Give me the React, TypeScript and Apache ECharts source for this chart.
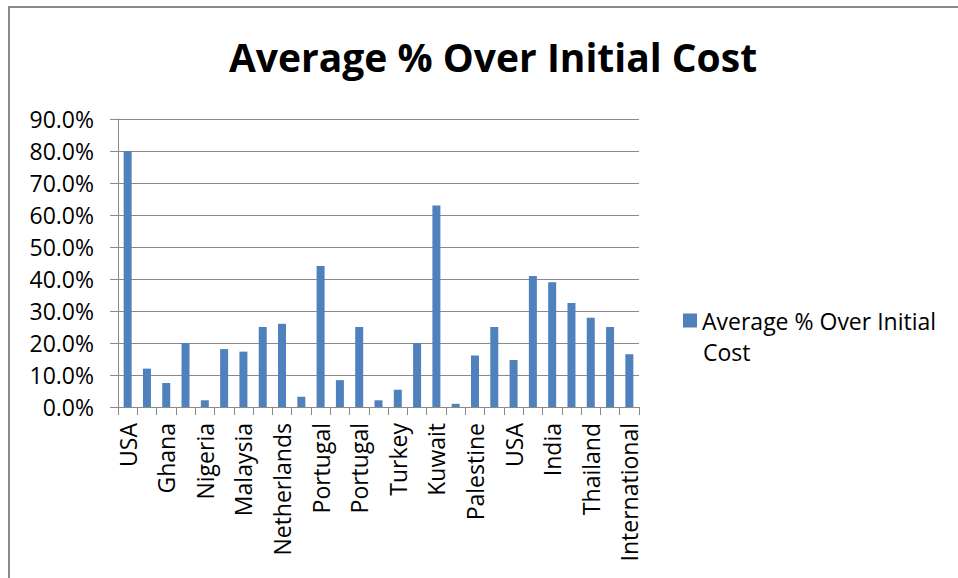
import React, { useEffect, useRef } from "react";
import * as echarts from "echarts";

const seriesName = "Average % Over Initial Cost";
const legendLine1 = "Average % Over Initial";
const legendLine2 = "Cost";

const categories = [
  "USA", "UK", "Ghana", "Nigeria", "Nigeria", "Malaysia", "Malaysia",
  "Indonesia", "Netherlands", "Jordan", "Portugal", "Portugal", "Portugal",
  "Slovenia", "Turkey", "Kuwait", "Kuwait", "Saudi Arabia", "Palestine",
  "Egypt", "USA", "India", "India", "Vietnam", "Thailand", "Thailand",
  "International",
];

const values = [
  80, 12, 7.5, 20, 2.1, 18.1, 17.3, 25, 26, 3.2, 44.1, 8.4, 25, 2.1,
  5.4, 20, 63, 1.0, 16.1, 25, 14.7, 40.9, 39, 32.5, 27.9, 25, 16.5,
];

const yTicks = { min: 0, max: 90, interval: 10 };

const FONT = "'Open Sans', 'Noto Sans', sans-serif";
const GRID = "#8a8a8a";

export default function App() {
  const ref = useRef<HTMLDivElement>(null);

  useEffect(() => {
    if (!ref.current) return;
    const chart = echarts.init(ref.current, null, { renderer: "svg" });
    chart.setOption({
      animation: false,
      backgroundColor: "#ffffff",
      title: {
        text: "Average % Over Initial Cost",
        left: 488,
        textAlign: "center",
        top: 32,
        textStyle: {
          fontFamily: FONT,
          fontWeight: "bold",
          fontSize: 39,
          color: "#000000",
        },
      },
      graphic: [
        {
          type: "rect",
          shape: { x: 9, y: 7, width: 1000, height: 700 },
          style: { fill: "none", stroke: "#8a8a8a", lineWidth: 2 },
          silent: true,
        },
        {
          type: "text",
          x: 703,
          y: 352,
          style: {
            text: legendLine2,
            fontFamily: FONT,
            fontSize: 23,
            fill: "#000000",
            verticalAlign: "middle",
            align: "left",
          },
          silent: true,
        },
      ],
      legend: {
        left: 678,
        top: 304,
        itemWidth: 14,
        itemHeight: 14,
        icon: "rect",
        data: [seriesName],
        formatter: () => legendLine1,
        textStyle: {
          fontFamily: FONT,
          fontSize: 23,
          color: "#000000",
        },
      },
      grid: {
        left: 118,
        right: 319,
        top: 119,
        bottom: 171,
        containLabel: false,
      },
      xAxis: {
        type: "category",
        data: categories,
        boundaryGap: true,
        axisLine: { show: true, lineStyle: { color: GRID, width: 1 } },
        axisTick: {
          show: true,
          interval: 0,
          alignWithLabel: false,
          length: 8,
          lineStyle: { color: GRID, width: 1 },
        },
        axisLabel: {
          interval: 1,
          rotate: 90,
          margin: 16,
          fontFamily: FONT,
          fontSize: 23,
          color: "#000000",
        },
        splitLine: { show: false },
      },
      yAxis: {
        type: "value",
        min: yTicks.min,
        max: yTicks.max,
        interval: yTicks.interval,
        axisLine: { show: true, lineStyle: { color: GRID, width: 1 } },
        axisTick: { show: true, length: 8, lineStyle: { color: GRID, width: 1 } },
        axisLabel: {
          margin: 24,
          fontFamily: FONT,
          fontSize: 23,
          color: "#000000",
          formatter: (v: number) => v.toFixed(1) + "%",
        },
        splitLine: { show: true, lineStyle: { color: GRID, width: 1 } },
      },
      series: [
        {
          name: seriesName,
          type: "bar",
          data: values,
          barWidth: 8,
          itemStyle: { color: "#4F81BD" },
        },
      ],
    });
    return () => chart.dispose();
  }, []);

  return (
    <div
      ref={ref}
      style={{ position: "fixed", left: 0, top: 0, width: 958, height: 578 }}
    />
  );
}
